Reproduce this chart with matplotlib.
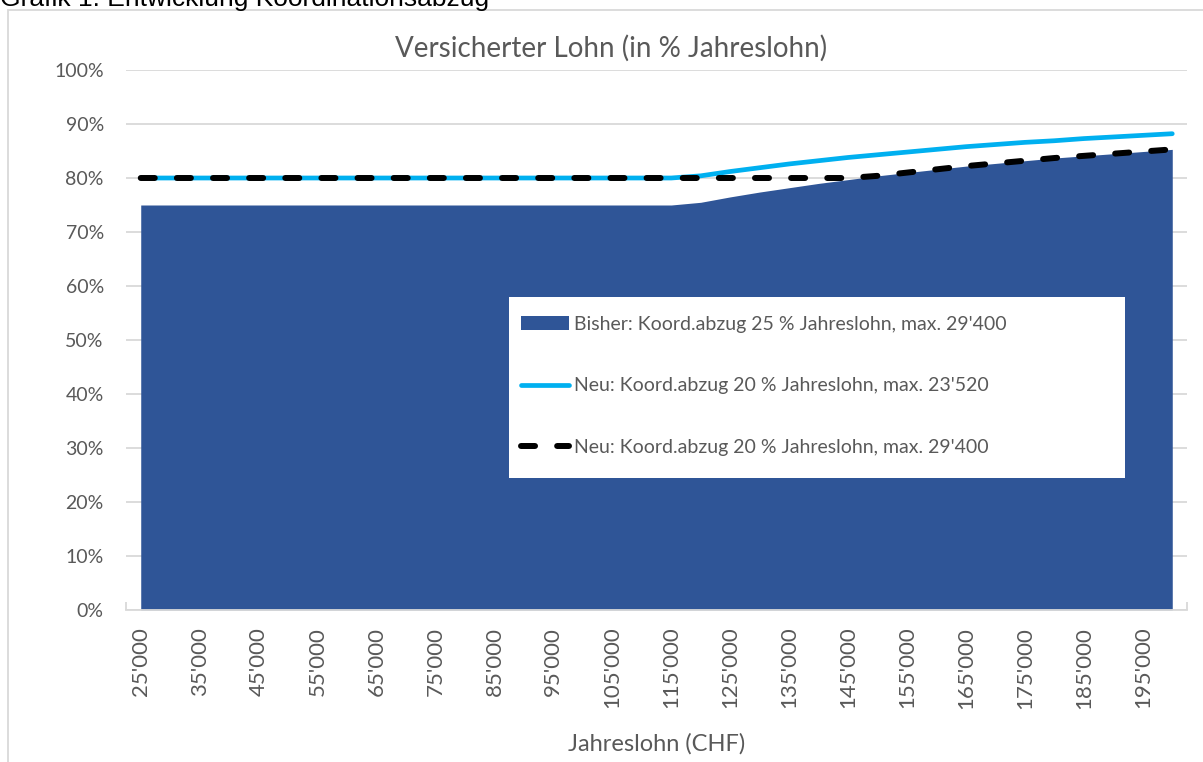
import matplotlib.pyplot as plt
from matplotlib.ticker import FixedLocator, PercentFormatter

# Jahreslohn in CHF (Kategorien)
salaries = list(range(25000, 200001, 5000))

# Versicherter Lohn in % des Jahreslohns
bisher = [0.75] * 19 + [0.755, 0.765, 0.774, 0.782, 0.790, 0.797, 0.804, 0.810,
                        0.816, 0.822, 0.827, 0.832, 0.837, 0.841, 0.845, 0.849, 0.853]
neu_23520 = [0.80] * 19 + [0.804, 0.812, 0.819, 0.826, 0.832, 0.838, 0.843, 0.848,
                           0.853, 0.858, 0.862, 0.866, 0.869, 0.873, 0.876, 0.879, 0.882]
neu_29400 = [0.80] * 25 + [0.804, 0.810, 0.816, 0.822, 0.827, 0.832, 0.837, 0.841,
                           0.845, 0.849, 0.853]

labels = ["Bisher: Koord.abzug 25 % Jahreslohn, max. 29'400",
          "Neu: Koord.abzug 20 % Jahreslohn, max. 23'520",
          "Neu: Koord.abzug 20 % Jahreslohn, max. 29'400"]

plt.rcParams['font.family'] = ['Lato', 'DejaVu Sans']
grey = '#595959'
W, H = 1203, 762

fig = plt.figure(figsize=(W / 100, H / 100), dpi=100)
ax = fig.add_axes([126 / W, 152 / H, 1061 / W, 540 / H])

x = list(range(len(salaries)))
area = ax.fill_between(x, bisher, color='#2F5597', lw=0, label=labels[0])
l1, = ax.plot(x, neu_23520, color='#00B0F0', lw=3.4, solid_capstyle='round', label=labels[1])
l2, = ax.plot(x, neu_29400, color='black', lw=4.3, dashes=(2.35, 3.7),
              dash_capstyle='round', label=labels[2])

ax.set_xlim(-0.5, len(salaries) - 0.5)
ax.set_ylim(0, 1)
ax.yaxis.set_major_formatter(PercentFormatter(1.0, decimals=0))
ax.set_yticks([i / 10 for i in range(11)])
ax.grid(axis='y', color='#D9D9D9', lw=1.3)
ax.set_axisbelow(True)

ax.set_xticks(x[::2])
ax.set_xticklabels([f"{s:,}".replace(',', "'") for s in salaries[::2]], rotation=90)
ax.xaxis.set_minor_locator(FixedLocator([i - 0.5 for i in range(len(salaries) + 1)]))
ax.tick_params(axis='x', which='major', length=0, pad=12, labelsize=16, labelcolor=grey)
ax.tick_params(axis='x', which='minor', length=6, direction='in', color='#D9D9D9', width=1.3)
ax.tick_params(axis='y', length=0, pad=16, labelsize=14, labelcolor=grey)
for s in ['left', 'right', 'top']:
    ax.spines[s].set_visible(False)
ax.spines['bottom'].set_color('#D9D9D9')
ax.spines['bottom'].set_linewidth(1.3)
ax.spines['bottom'].set_zorder(3)

fig.text(611.5 / W, 1 - 48 / H, 'Versicherter Lohn (in % Jahreslohn)', fontsize=20,
         color=grey, ha='center', va='center')
ax.set_xlabel('Jahreslohn (CHF)', fontsize=17, color=grey, labelpad=18)

# weisser Legendenkasten
box = plt.Rectangle((509 / W, 1 - 478 / H), 616 / W, 181 / H, transform=fig.transFigure,
                    facecolor='white', edgecolor='none', zorder=5, clip_on=False)
ax.add_patch(box)
leg = ax.legend(handles=[area, l1, l2], loc='upper left',
                bbox_to_anchor=(511 / W, 1 - 306 / H), bbox_transform=fig.transFigure,
                frameon=False, fontsize=14, handlelength=2.5, handletextpad=0.25,
                labelspacing=2.3, borderpad=0.5, borderaxespad=0)
leg.set_zorder(6)
for t in leg.get_texts():
    t.set_color(grey)

# Rahmen und Grafiktitel
fig.patches.append(plt.Rectangle((8 / W, -0.1), 1.2, (H - 10) / H + 0.1,
                                 transform=fig.transFigure, fill=False,
                                 edgecolor='#D9D9D9', lw=1.3))
fig.text(0, 1 - 6 / H, 'Grafik 1: Entwicklung Koordinationsabzug', family='Liberation Sans',
         fontsize=19, color='black', va='baseline', ha='left')

fig.savefig('out.png', dpi=100)
